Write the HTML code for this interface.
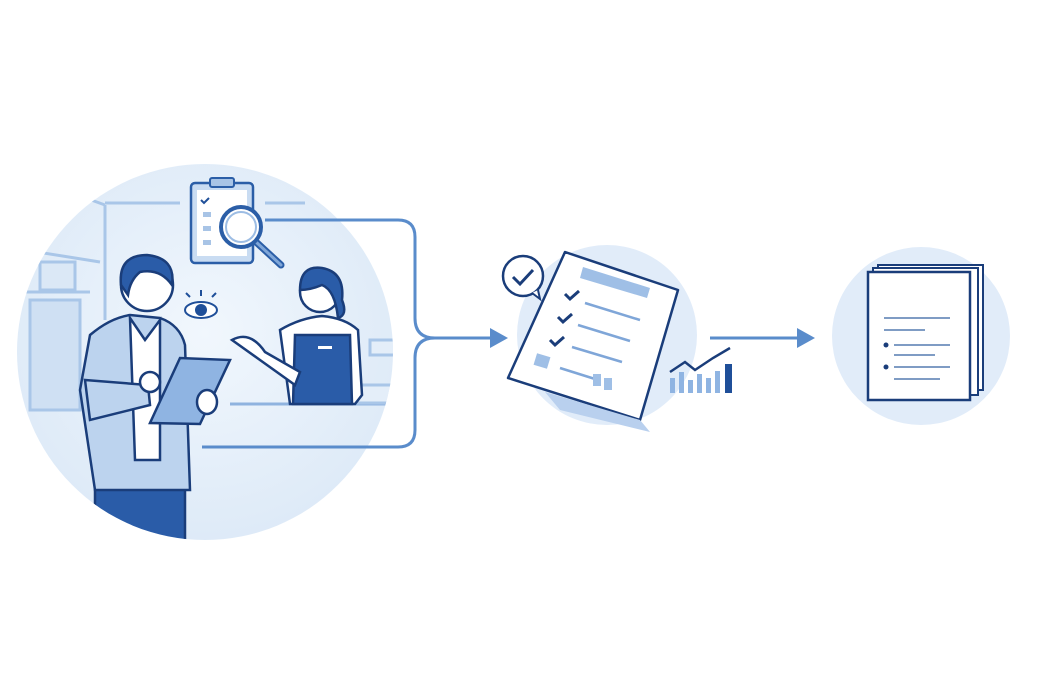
<!DOCTYPE html>
<html><head><meta charset="utf-8"><style>html,body{margin:0;background:#fff}svg{display:block}</style></head>
<body>
<svg width="1040" height="693" viewBox="0 0 1040 693" xmlns="http://www.w3.org/2000/svg" font-family="Liberation Sans, sans-serif">
<defs>
<radialGradient id="g1" cx="0.5" cy="0.45" r="0.6"><stop offset="0" stop-color="#f1f7fd"/><stop offset="1" stop-color="#dce9f7"/></radialGradient>
<clipPath id="c1"><circle cx="205" cy="352" r="188"/></clipPath>
</defs>
<!-- left circle -->
<circle cx="205" cy="352" r="188" fill="url(#g1)"/>
<g clip-path="url(#c1)" stroke="#a9c6e8" stroke-width="3" fill="none">
<line x1="50" y1="185" x2="105" y2="205"/><line x1="105" y1="205" x2="105" y2="320"/>
<line x1="105" y1="203" x2="180" y2="203"/><line x1="265" y1="203" x2="305" y2="203"/>
<line x1="25" y1="250" x2="100" y2="262"/><line x1="25" y1="292" x2="90" y2="292"/>
<rect x="30" y="300" width="50" height="110" fill="#cfe0f3" stroke="#a9c6e8"/>
<rect x="40" y="262" width="35" height="28" fill="#dbe8f6"/>
<line x1="230" y1="404" x2="390" y2="404" stroke="#8fb3df"/>
<rect x="370" y="340" width="25" height="15" fill="#e4eef9"/>
<rect x="355" y="385" width="40" height="18" fill="#e4eef9"/>
</g>
<!-- clipboard -->
<rect x="191" y="183" width="62" height="80" rx="4" fill="#c9dcf2" stroke="#2b5ea7" stroke-width="2.5"/>
<rect x="197" y="190" width="50" height="66" fill="#fff"/>
<rect x="210" y="178" width="24" height="9" rx="2" fill="#a8c4e6" stroke="#2b5ea7" stroke-width="2"/>
<path d="M201 200l3 3 5-5" stroke="#1f4f99" stroke-width="2" fill="none"/>
<rect x="203" y="212" width="8" height="5" fill="#a8c4e6"/><rect x="203" y="226" width="8" height="5" fill="#a8c4e6"/><rect x="203" y="240" width="8" height="5" fill="#a8c4e6"/>
<line x1="256" y1="242" x2="281" y2="265" stroke="#2b5ea7" stroke-width="7" stroke-linecap="round"/>
<line x1="256" y1="242" x2="281" y2="265" stroke="#7fa6d8" stroke-width="3" stroke-linecap="round"/>
<circle cx="241" cy="227" r="20" fill="#fff" stroke="#2b5ea7" stroke-width="4"/>
<circle cx="241" cy="227" r="15" fill="#fff" stroke="#9dbde4" stroke-width="2"/>
<!-- connector -->
<path d="M265 220H398Q415 220 415 237V318Q415 338 435 338H495" stroke="#5a8ccb" stroke-width="3" fill="none"/>
<path d="M202 447H398Q415 447 415 430V358Q415 338 435 338" stroke="#5a8ccb" stroke-width="3" fill="none"/>
<polygon points="490,328 508,338 490,348" fill="#5a8ccb"/>
<!-- eye -->
<ellipse cx="201" cy="310" rx="16" ry="8" fill="#fff" stroke="#1f4f99" stroke-width="2"/>
<circle cx="201" cy="310" r="6" fill="#1f4f99"/>
<path d="M201 290v6M186 293l4 4M216 293l-4 4" stroke="#1f4f99" stroke-width="2"/>
<!-- man -->
<g clip-path="url(#c1)" stroke="#1a3d7a" stroke-width="2.5">
<rect x="95" y="470" width="90" height="80" fill="#2a5ca8"/>
<path d="M90 335Q110 318 130 315L160 318Q180 325 185 345L190 490H95L80 390Z" fill="#bcd3ee"/>
<path d="M130 318L145 340L160 320L160 460H135Z" fill="#fff"/>
<circle cx="147" cy="285" r="26" fill="#fff"/>
<path d="M121 285Q118 255 147 255Q176 258 172 285Q160 268 140 272Q130 280 128 295Z" fill="#2a5ca8"/>
<path d="M85 380L90 420L150 405L148 385Z" fill="#bcd3ee"/>
<polygon points="150,423 180,358 230,360 200,424" fill="#8fb4e2"/>
<ellipse cx="207" cy="402" rx="10" ry="12" fill="#fff"/>
<ellipse cx="150" cy="382" rx="10" ry="10" fill="#fff"/>
</g>
<!-- woman -->
<g stroke="#1a3d7a" stroke-width="2.5">
<path d="M280 330Q300 318 322 316Q345 318 358 330L362 395L355 404H290Z" fill="#fff"/>
<path d="M295 335H350L352 404H293Z" fill="#2a5ca8"/>
<path d="M232 340Q250 330 265 352L300 372L295 385L260 360Z" fill="#fff"/>
<circle cx="320" cy="292" r="20" fill="#fff"/>
<path d="M300 290Q300 265 322 268Q345 272 342 300Q348 315 338 318Q335 290 322 285Q310 290 300 290Z" fill="#2a5ca8"/>
</g>
<rect x="318" y="346" width="14" height="3" fill="#fff"/>
<!-- middle -->
<circle cx="607" cy="335" r="90" fill="#e1ecf9"/>
<polygon points="565,252 678,290 640,420 508,378" fill="#fff" stroke="#1a3d7a" stroke-width="2.5" stroke-linejoin="round"/>
<polygon points="640,420 545,392 560,410 650,432" fill="#b9d0ee"/>
<polygon points="583,267 650,288 647,298 580,278" fill="#9fbfe6"/>
<g stroke="#1a3d7a" stroke-width="3" fill="none"><path d="M565 294l5 5 9-8M558 317l5 5 9-8M550 340l5 5 9-8"/></g>
<g stroke="#7fa6d8" stroke-width="2.5"><line x1="585" y1="303" x2="640" y2="320"/><line x1="578" y1="325" x2="630" y2="341"/><line x1="572" y1="347" x2="622" y2="362"/><line x1="560" y1="368" x2="595" y2="379"/></g>
<rect x="535" y="355" width="14" height="12" fill="#9fbfe6" transform="rotate(17 542 361)"/>
<rect x="593" y="374" width="8" height="12" fill="#9fbfe6"/><rect x="604" y="378" width="8" height="12" fill="#9fbfe6"/>
<circle cx="523" cy="276" r="20" fill="#fff" stroke="#1a3d7a" stroke-width="2.5"/>
<path d="M513 277l7 7 13-14" stroke="#1a3d7a" stroke-width="3" fill="none"/>
<path d="M532 293l8 6-2-9" fill="#fff" stroke="#1a3d7a" stroke-width="2"/>
<!-- chart -->
<g fill="#8fb4e2"><rect x="670" y="378" width="5" height="15"/><rect x="679" y="372" width="5" height="21"/><rect x="688" y="380" width="5" height="13"/><rect x="697" y="374" width="5" height="19"/><rect x="706" y="378" width="5" height="15"/><rect x="715" y="371" width="5" height="22"/></g>
<rect x="725" y="364" width="7" height="29" fill="#1f4f99"/>
<path d="M670 372l15-10 10 8 18-12 17-10" stroke="#1a3d7a" stroke-width="2.5" fill="none"/>
<!-- arrow 2 -->
<line x1="710" y1="338" x2="800" y2="338" stroke="#5a8ccb" stroke-width="3"/>
<polygon points="797,328 815,338 797,348" fill="#5a8ccb"/>
<!-- right -->
<circle cx="921" cy="336" r="89" fill="#e1ecf9"/>
<rect x="878" y="265" width="105" height="125" fill="#fff" stroke="#1a3d7a" stroke-width="2"/>
<rect x="873" y="268" width="105" height="127" fill="#fff" stroke="#1a3d7a" stroke-width="2"/>
<rect x="868" y="272" width="102" height="128" fill="#fff" stroke="#1a3d7a" stroke-width="2.5"/>
<g stroke="#7f9cc4" stroke-width="2"><line x1="884" y1="318" x2="950" y2="318"/><line x1="884" y1="330" x2="925" y2="330"/><line x1="894" y1="345" x2="950" y2="345"/><line x1="894" y1="355" x2="935" y2="355"/><line x1="894" y1="367" x2="950" y2="367"/><line x1="894" y1="379" x2="940" y2="379"/></g>
<circle cx="886" cy="345" r="2.5" fill="#1a3d7a"/><circle cx="886" cy="367" r="2.5" fill="#1a3d7a"/>
</svg>
</body></html>
